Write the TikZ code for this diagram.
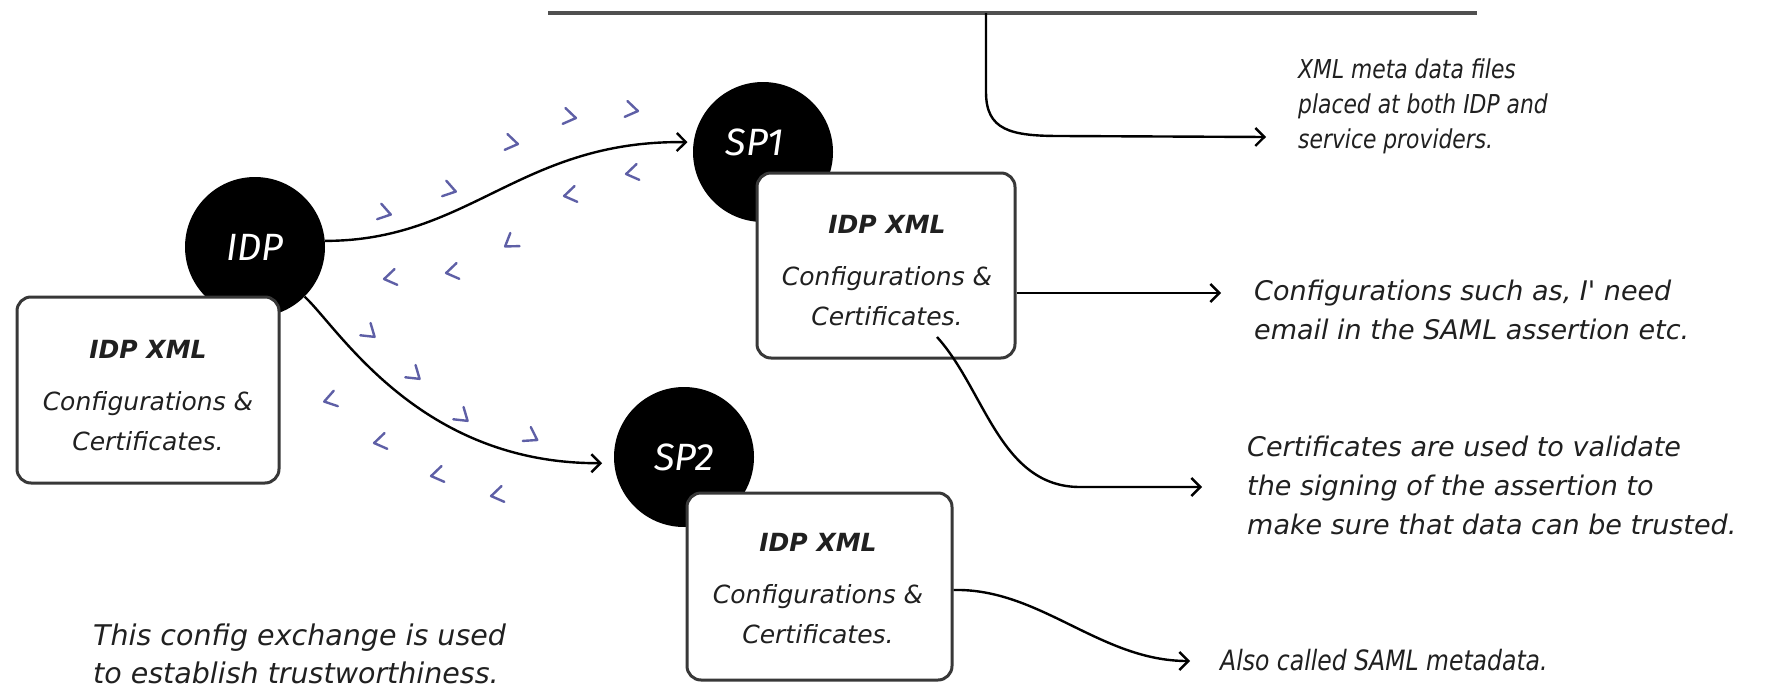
\documentclass[tikz,border=0pt]{standalone}
\usepackage{fontspec}
\setmainfont{Fira Sans}
\newfontfamily\handfont{DejaVu Sans}[ItalicFont={DejaVu Sans Oblique}, BoldFont={DejaVu Sans Bold}, BoldItalicFont={DejaVu Sans Bold Oblique}]
\newfontfamily\handnarrow{DejaVu Sans}[ItalicFont={DejaVu Sans Oblique}, FakeStretch=0.84]
\usetikzlibrary{arrows.meta}
\definecolor{ink}{HTML}{202020}
\definecolor{frame}{HTML}{383838}
\definecolor{barc}{HTML}{505050}
\definecolor{chevc}{HTML}{5E5FA6}
\tikzset{
  hub/.style={circle, fill=black, draw=none, text=white, minimum size=140pt, inner sep=0pt,
    font=\fontsize{38}{38}\selectfont\itshape},
  card/.style={draw=frame, line width=3pt, rounded corners=14pt, fill=white, inner sep=0pt},
  cardtext/.style={align=center, text=ink, inner sep=0pt, font=\handfont\fontsize{25}{40}\selectfont\itshape},
  note/.style={align=left, text=ink, inner sep=0pt, anchor=west, font=\handfont\fontsize{27}{39}\selectfont\itshape},
  conn/.style={draw=black, line width=2.4pt, -{Straight Barb[length=9pt,width=18pt]}},
  bar/.style={draw=barc, line width=4pt},
  chev/.style={draw=chevc, line width=2.4pt, line cap=round, line join=round}
}
\begin{document}
\begin{tikzpicture}[x=1pt,y=-1pt]
\useasboundingbox (0,0) rectangle (1783,688);
\fill[white] (0,0) rectangle (1783,688);

% exchange marks around the two links
\foreach \px/\py/\a in {385/213/-15, 450/190/-15, 512/143/-10, 570/117/-10, 632/110/-10,
                         370/333/-40, 415/375/-40, 463/417/-40, 532/437/-30}
  \draw[chev, shift={(\px,\py)}, rotate=\a] (-6,-8) -- (6,0) -- (-6,8);
\foreach \px/\py/\a in {390/278/10, 452/272/10, 510/243/35, 570/195/10, 632/173/10,
                         330/400/15, 380/442/10, 437/475/10, 497/495/10}
  \draw[chev, shift={(\px,\py)}, rotate=\a] (6,-8) -- (-6,0) -- (6,8);

% providers
\node[hub] (idp) at (255,247) {IDP};
\node[hub] (sp1) at (763,152) {};
\node[text=white, font=\fontsize{38}{38}\selectfont\itshape] (sp1lbl) at (755,142) {SP1};
\node[hub] (sp2) at (684,457) {SP2};

% metadata cards
\node[card, minimum width=262pt, minimum height=186pt] (idpx) at (148,390) {};
\node[cardtext] (idpxt) at (148,396) {\textbf{IDP XML}\\[12pt]Configurations \&\\Certificates.};
\node[card, minimum width=258pt, minimum height=185pt] (sp1x) at (886,265.5) {};
\node[cardtext] (sp1xt) at (887,271) {\textbf{IDP XML}\\[12pt]Configurations \&\\Certificates.};
\node[card, minimum width=265pt, minimum height=187pt] (sp2x) at (819.5,586.5) {};
\node[cardtext] (sp2xt) at (818,589) {\textbf{IDP XML}\\[12pt]Configurations \&\\Certificates.};

% links between the identity provider and the service providers
\draw[conn, shorten >=6pt] (idp.5) .. controls (470,241) and (520,140) .. (sp1.172);
\draw[conn, shorten >=12pt] (idp.-45) .. controls (340,330) and (420,464) .. (sp2.185);

% explanatory notes
\node[note, font=\handnarrow\fontsize{26}{35}\selectfont\itshape] (meta) at (1298,106)
  {XML meta data files\\placed at both IDP and\\service providers.};
\node[note] (cfg) at (1254,310) {Configurations such as, I' need\\email in the SAML assertion etc.};
\node[note] (cert) at (1247,485) {Certificates are used to validate\\the signing of the assertion to\\make sure that data can be trusted.};
\node[note, font=\handnarrow\fontsize{28}{30}\selectfont\itshape] (also) at (1220,660) {Also called SAML metadata.};
\node[note, font=\handfont\fontsize{28.5}{38}\selectfont\itshape] (trust) at (93,654) {This config exchange is used\\to establish trustworthiness.};

% bracket line and the note arrows
\coordinate (barL) at (548,13);
\coordinate (barR) at (1477,13);
\draw[bar] (barL) -- (barR);
\coordinate (drop) at (986,13);
\coordinate (tipA) at (1266,137);
\draw[conn] (drop) -- (986,92) .. controls (986,130) and (1010,136) .. (1060,136) -- (tipA);
\coordinate (tipB) at (1221,293);
\draw[conn] (sp1x.east |- tipB) -- (tipB);
\coordinate (certStart) at (937,337);
\coordinate (tipC) at (1202,487);
\draw[conn] (certStart) .. controls (985,390) and (1000,487) .. (1080,487) -- (tipC);
\coordinate (tipD) at (1190,661);
\draw[conn] ([yshift=-3.5pt]sp2x.east) .. controls (1040,588) and (1100,661) .. (tipD);
\end{tikzpicture}
\end{document}
